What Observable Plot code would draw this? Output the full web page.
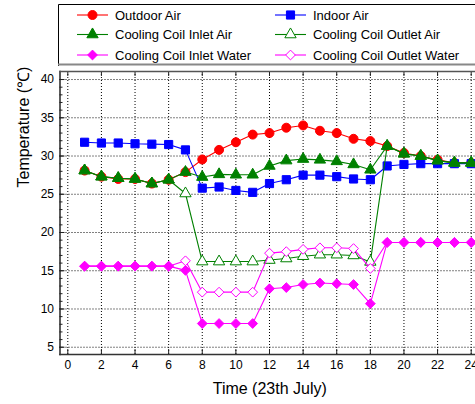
<!DOCTYPE html>
<html><head><meta charset="utf-8">
<script src="https://cdn.jsdelivr.net/npm/d3@7"></script>
<script src="https://cdn.jsdelivr.net/npm/@observablehq/plot@0.6"></script>
<style>
body{margin:0;background:#fff;width:475px;height:404px;overflow:hidden;font-family:"Liberation Sans",Arial,sans-serif;}
#legend svg,#chart svg{display:block;}
</style></head><body>
<div id="legend"></div><div id="chart"></div>
<script>
// ---- data ----
const hours = [1,2,3,4,5,6,7,8,9,10,11,12,13,14,15,16,17,18,19,20,21,22,23,24];
const outdoorAir = [28.1,27.3,27.0,27.0,26.4,26.9,27.9,29.55,30.8,31.8,32.8,33.0,33.7,34.0,33.3,33.0,32.25,31.95,31.3,30.4,30.0,29.5,29.1,29.1];
const indoorAir = [31.8,31.7,31.7,31.6,31.55,31.5,30.8,25.8,25.95,25.5,25.25,26.4,26.9,27.5,27.5,27.3,27.0,26.9,28.7,28.9,29.0,29.0,29.0,29.0];
const coilInletAir = [28.1,27.3,27.1,27.0,26.4,26.9,27.9,27.25,27.6,27.55,27.55,28.7,29.4,29.6,29.5,29.3,28.9,28.2,31.3,30.3,30.0,29.4,29.1,29.1];
const coilOutletAir = [28.1,27.3,27.1,27.0,26.4,26.9,25.1,16.2,16.2,16.2,16.2,16.4,16.6,16.9,17.1,17.1,17.0,16.15,31.3,30.3,30.0,29.4,29.1,29.1];
const coilInletWater = [15.6,15.6,15.6,15.6,15.6,15.6,15.05,8.1,8.1,8.1,8.1,12.65,12.8,13.2,13.4,13.3,13.2,10.7,18.7,18.7,18.7,18.7,18.7,18.7];
const coilOutletWater = [15.6,15.6,15.6,15.6,15.6,15.6,16.3,12.2,12.2,12.2,12.2,17.3,17.5,17.8,18.0,18.0,17.9,15.3,18.7,18.7,18.7,18.7,18.7,18.7];
const seriesNames = ["Outdoor Air","Indoor Air","Cooling Coil Inlet Air","Cooling Coil Outlet Air","Cooling Coil Inlet Water","Cooling Coil Outlet Water"];
const xTicks = [0,2,4,6,8,10,12,14,16,18,20,22,24];
const yTicks = [5,10,15,20,25,30,35,40];
const yMinorTicks = d3.range(5,41,1);
const xLabel = "Time (23th July)";
const yLabel = "Temperature (\u2103)";

// ---- styles ----
const FONT = '"Liberation Sans", Arial, sans-serif';
const series = [
  {name: seriesNames[0], values: outdoorAir, color: "#ff0000", symbol: "circle", r: 4.5, hollow: false},
  {name: seriesNames[1], values: indoorAir, color: "#0000ff", symbol: "square", r: 4.6, hollow: false},
  {name: seriesNames[2], values: coilInletAir, color: "#008000", symbol: "triangle", r: 4.2, hollow: false},
  {name: seriesNames[3], values: coilOutletAir, color: "#008000", symbol: "triangle", r: 4.2, hollow: true},
  {name: seriesNames[4], values: coilInletWater, color: "#ff00ff", symbol: "diamond2", r: 4.4, hollow: false},
  {name: seriesNames[5], values: coilOutletWater, color: "#ff00ff", symbol: "diamond2", r: 4.4, hollow: true}
];
const table = series.map(s => hours.map((h, i) => ({hour: h, value: s.values[i], series: s.name})));
const drawOrder = [0, 1, 3, 2, 5, 4];

const seriesMarks = drawOrder.flatMap(k => {
  const s = series[k];
  return [
    Plot.line(table[k], {x: "hour", y: "value", stroke: s.color, strokeWidth: 1.1}),
    Plot.dot(table[k], {x: "hour", y: "value", symbol: s.symbol, r: s.r,
      fill: s.hollow ? "white" : s.color, stroke: s.color, strokeWidth: 1})
  ];
});

const grid = {stroke: "#000", strokeOpacity: 1, strokeDasharray: "1,2", strokeWidth: 1};

const chart = Plot.plot({
  width: 475, height: 338,
  marginLeft: 59.5, marginRight: 0, marginTop: 5, marginBottom: 50,
  x: {domain: [-0.464, 24.256]},
  y: {domain: [4.05, 41.05]},
  style: {fontFamily: FONT, fontSize: "12px", color: "#000", background: "white", overflow: "visible"},
  marks: [
    Plot.gridX(xTicks, grid),
    Plot.gridY(yTicks, grid),
    ...seriesMarks,
    Plot.frame({anchor: "left", stroke: "#333", strokeWidth: 1.6}),
    Plot.frame({anchor: "bottom", stroke: "#333", strokeWidth: 1.6}),
    Plot.frame({anchor: "top", stroke: "#555", strokeWidth: 1.6}),
    Plot.axisX(xTicks, {anchor: "bottom", tickSize: 0, tickPadding: 6, label: null, fontSize: 12}),
    Plot.axisX(xTicks, {anchor: "bottom", tickSize: -5, text: null, label: null, stroke: "#222"}),
    Plot.axisX(xTicks, {anchor: "top", tickSize: -4, text: null, label: null, stroke: "#222"}),
    Plot.axisY(yTicks, {anchor: "left", tickSize: 0, tickPadding: 6, label: null, fontSize: 12}),
    Plot.axisY(yTicks, {anchor: "left", tickSize: -5, text: null, label: null, stroke: "#222"}),
    Plot.axisY(yMinorTicks, {anchor: "left", tickSize: -3, text: null, label: null, stroke: "#222"}),
    Plot.text([xLabel], {frameAnchor: "bottom", dy: 39, dx: 2, fontSize: 16, fill: "#000"}),
    Plot.text([yLabel], {frameAnchor: "left", dx: -36.5, dy: -25.5, rotate: -90, fontSize: 16, fill: "#000"})
  ]
});
document.getElementById("chart").appendChild(chart);

// ---- legend (above the chart) ----
const symbolTypes = {circle: d3.symbolCircle, square: d3.symbolSquare, triangle: d3.symbolTriangle, diamond2: d3.symbolDiamond2};
const lg = d3.select("#legend").append("svg").attr("width", 475).attr("height", 66)
  .style("font-family", FONT);
lg.append("path").attr("d", "M58.5,66V4.5H475").attr("fill", "none").attr("stroke", "#000").attr("stroke-width", 1);
lg.append("line").attr("x1", 58).attr("x2", 475).attr("y1", 64.5).attr("y2", 64.5).attr("stroke", "#888").attr("stroke-width", 2);
const cols = [77, 275];
const rows = [15, 34.5, 55];
series.forEach((s, i) => {
  const x0 = cols[i % 2], y0 = rows[Math.floor(i / 2)];
  const g = lg.append("g");
  g.append("line").attr("x1", x0).attr("x2", x0 + 31).attr("y1", y0).attr("y2", y0).attr("stroke", s.color).attr("stroke-width", 1.1);
  g.append("path").attr("transform", `translate(${x0 + 15.5},${y0})`)
    .attr("d", d3.symbol(symbolTypes[s.symbol], s.r * s.r * Math.PI)())
    .attr("fill", s.hollow ? "white" : s.color).attr("stroke", s.color);
  g.append("text").attr("x", x0 + 38).attr("y", y0).attr("dy", "0.35em")
    .attr("font-size", 13).attr("fill", "#000").text(s.name);
});
</script>
</body></html>
